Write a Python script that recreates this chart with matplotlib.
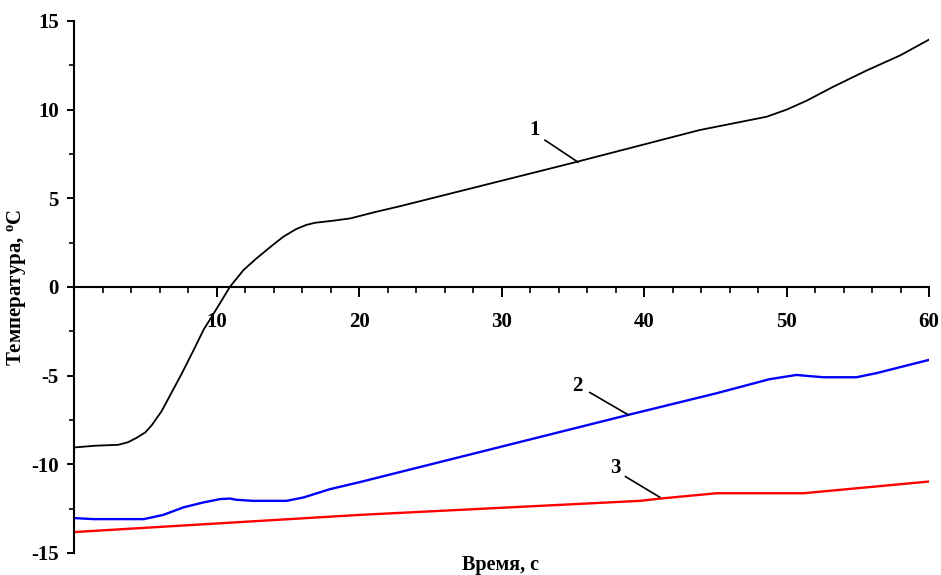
import matplotlib
matplotlib.use("Agg")
import matplotlib.pyplot as plt
import matplotlib.ticker as mtick

plt.rcParams['font.family'] = ['Liberation Serif', 'DejaVu Serif']
plt.rcParams['font.weight'] = 'bold'
plt.rcParams['mathtext.fontset'] = 'custom'
plt.rcParams['mathtext.bf'] = 'Liberation Serif:bold'
plt.rcParams['mathtext.rm'] = 'Liberation Serif:bold'
plt.rcParams['mathtext.default'] = 'bf'
plt.rcParams['axes.unicode_minus'] = False

# curve 1 (black)
t1 = [0, 1.5, 3.1, 3.8, 4.4, 5.0, 5.45, 6.15, 6.75, 7.55, 8.4, 9.1, 9.8, 10.95,
      11.9, 12.8, 14.0, 14.7, 15.6, 16.3, 16.9, 18.2, 19.4, 21.2, 22.9, 35.0,
      43.9, 48.6, 50.0, 51.4, 53.3, 55.6, 58.0, 60.0]
T1 = [-9.05, -8.95, -8.9, -8.75, -8.5, -8.2, -7.8, -7.0, -6.1, -4.9, -3.55, -2.4,
      -1.5, 0.02, 0.96, 1.61, 2.4, 2.84, 3.27, 3.5, 3.62, 3.74, 3.87, 4.24, 4.56,
      7.0, 8.85, 9.6, 10.0, 10.5, 11.3, 12.2, 13.07, 13.95]

# curve 2 (blue)
t2 = [0, 1.35, 4.9, 6.27, 7.67, 9.07, 10.25, 10.95, 11.4, 12.6, 14.9, 16.1,
      17.96, 20.07, 38.9, 45.1, 48.8, 50.7, 51.4, 52.6, 54.9, 56.3, 60.0]
T2 = [-13.03, -13.09, -13.09, -12.85, -12.43, -12.15, -11.96, -11.93, -12.0,
      -12.06, -12.06, -11.87, -11.4, -11.0, -7.21, -5.99, -5.2, -4.96, -5.01,
      -5.09, -5.09, -4.86, -4.11]

# curve 3 (red)
t3 = [0, 20.07, 39.7, 41.4, 45.1, 51.2, 60.0]
T3 = [-13.82, -12.85, -12.06, -11.91, -11.63, -11.63, -10.97]

# curve labels: text position, leader start, leader end
labels = ["1", "2", "3"]
label_xy = [(32.3, 8.85), (35.3, -5.6), (37.96, -10.2)]
leader_from = [(33.05, 8.28), (36.2, -5.95), (38.7, -10.69)]
leader_to = [(35.37, 7.04), (38.9, -7.21), (41.1, -11.85)]

fig = plt.figure(figsize=(9.41, 5.75), dpi=100)
ax = fig.add_axes([74 / 941, 22 / 575, 855 / 941, 532 / 575])

ax.plot(t1, T1, color='black', lw=1.3)
ax.plot(t2, T2, color='#0000ff', lw=1.7)
ax.plot(t3, T3, color='#ff0000', lw=1.7)

for lab, pos, a, b in zip(labels, label_xy, leader_from, leader_to):
    ax.text(pos[0], pos[1], lab, ha='center', va='center', fontsize=15,
            fontweight='bold')
    ax.plot([a[0], b[0]], [a[1], b[1]], color='black', lw=1.2)

ax.set_xlim(0, 60)
ax.set_ylim(-15, 15)

ax.spines['top'].set_visible(False)
ax.spines['right'].set_visible(False)
ax.spines['bottom'].set_position(('data', 0))
ax.spines['left'].set_linewidth(1.5)
ax.spines['bottom'].set_linewidth(1.5)

ax.xaxis.set_major_locator(mtick.FixedLocator([10, 20, 30, 40, 50, 60]))
ax.xaxis.set_minor_locator(mtick.MultipleLocator(2))
ax.yaxis.set_major_locator(mtick.MultipleLocator(5))
ax.yaxis.set_minor_locator(mtick.MultipleLocator(2.5))

ax.tick_params(axis='x', which='major', direction='out', length=7.2, width=1.4,
               pad=11, labelsize=15)
ax.tick_params(axis='x', which='minor', direction='out', length=4.3, width=1.2)
ax.tick_params(axis='y', which='major', direction='out', length=5, width=1.4,
               pad=6, labelsize=15)
ax.tick_params(axis='y', which='minor', direction='out', length=3.6, width=1.2)

for lab in ax.get_xticklabels() + ax.get_yticklabels():
    lab.set_fontweight('bold')

fig.text(501 / 941, 1 - 565 / 575, "Время, с", ha='center', va='center',
         fontsize=14.5, fontweight='bold')
fig.text(17 / 941, 1 - 287 / 575, "Температура, $^{o}$C", ha='center',
         va='center', rotation=90, fontsize=15, fontweight='bold')

fig.savefig("out.png", dpi=100)
